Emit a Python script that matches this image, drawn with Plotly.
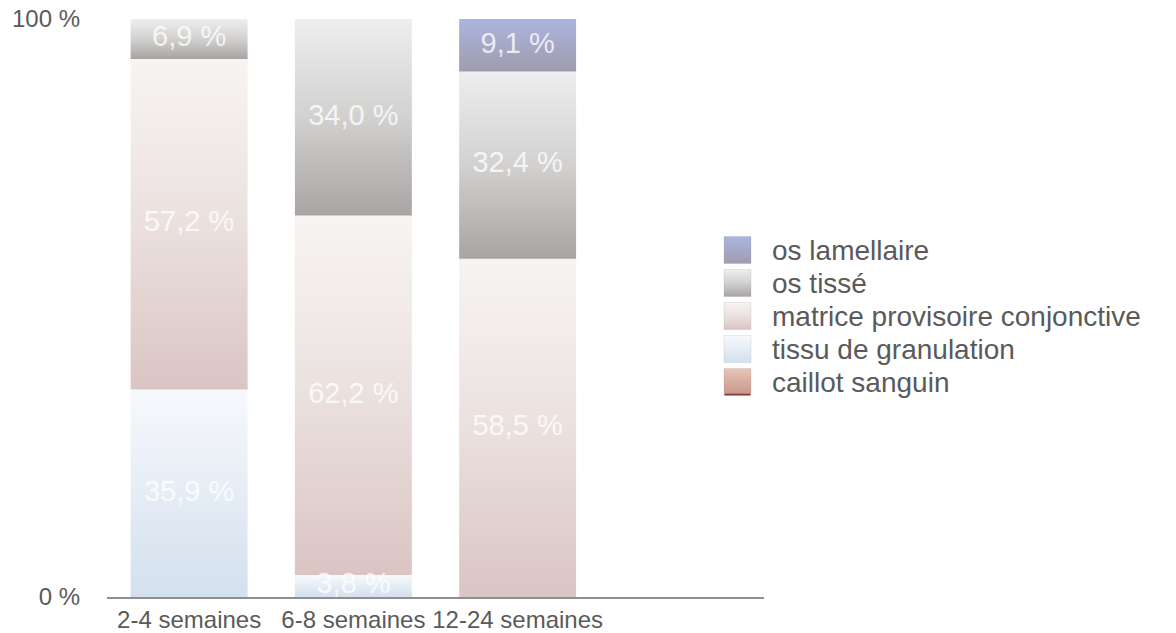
import plotly.graph_objects as go

# --- data -------------------------------------------------------------
categories = ["2-4 semaines", "6-8 semaines", "12-24 semaines"]

caillot_sanguin = [0.0, 0.0, 0.0]
tissu_de_granulation = [35.9, 3.8, 0.0]
matrice_provisoire_conjonctive = [57.2, 62.2, 58.5]
os_tisse = [6.9, 34.0, 32.4]
os_lamellaire = [0.0, 0.0, 9.1]

y_tick_values = [0, 100]
y_tick_labels = ["0 %", "100 %"]

# stacking order, bottom to top
series = [
    ("caillot sanguin", caillot_sanguin),
    ("tissu de granulation", tissu_de_granulation),
    ("matrice provisoire conjonctive", matrice_provisoire_conjonctive),
    ("os tissé", os_tisse),
    ("os lamellaire", os_lamellaire),
]

# vertical gradients per series (0 = bottom, 1 = top)
gradients = {
    "caillot sanguin": [[0, "#c6968a"], [1, "#e9c3b7"]],
    "tissu de granulation": [[0, "#d3e0ee"], [1, "#f7f9fc"]],
    "matrice provisoire conjonctive": [[0, "#dac5c3"], [0.55, "#ece3e1"], [1, "#f7f4f2"]],
    "os tissé": [[0, "#a8a4a3"], [0.5, "#d2d1d0"], [1, "#eeeeee"]],
    "os lamellaire": [[0, "#9f9cad"], [1, "#aab5df"]],
}

W, H = 1176, 633
FONT = "Liberation Sans, Helvetica Neue, Arial, sans-serif"
TEXT_GREY = "#5a5a5a"

bar_width = 0.712
fig = go.Figure()

# --- stacked 100 % columns, one gradient polygon per segment ----------
label_x, label_y, label_text = [], [], []
base = [0.0] * len(categories)
for name, values in series:
    for i, v in enumerate(values):
        if v <= 0:
            continue
        x0, x1 = i - bar_width / 2, i + bar_width / 2
        y0, y1 = base[i], base[i] + v
        fig.add_trace(go.Scatter(
            x=[x0, x1, x1, x0, x0],
            y=[y0, y0, y1, y1, y0],
            mode="lines",
            line=dict(width=0),
            fill="toself",
            fillgradient=dict(type="vertical", colorscale=gradients[name]),
            name=name,
            legendgroup=name,
            showlegend=False,
            hoverinfo="skip",
            xaxis="x", yaxis="y",
        ))
        label_x.append(i)
        label_y.append((y0 + y1) / 2)
        label_text.append(f"{v:.1f}".replace(".", ",") + " %")
        base[i] = y1

fig.add_trace(go.Scatter(
    x=label_x, y=label_y, text=label_text,
    mode="text",
    textposition="middle center",
    textfont=dict(family=FONT, size=29, color="rgba(255,255,255,0.78)"),
    showlegend=False, hoverinfo="skip",
    xaxis="x", yaxis="y",
))

# --- legend: gradient swatches on a pixel-space overlay ---------------
sw_left, sw_size = 724, 27
row_centers = [250, 283, 316, 349, 382]
for (name, _), cy in zip(reversed(series), row_centers):
    top, bottom = cy - sw_size / 2, cy + sw_size / 2
    fig.add_trace(go.Scatter(
        x=[sw_left, sw_left + sw_size, sw_left + sw_size, sw_left, sw_left],
        y=[H - bottom, H - bottom, H - top, H - top, H - bottom],
        mode="lines",
        line=dict(width=0.6, color="rgba(120,120,120,0.25)"),
        fill="toself",
        fillgradient=dict(type="vertical", colorscale=gradients[name]),
        showlegend=False, hoverinfo="skip",
        xaxis="x2", yaxis="y2",
    ))
    fig.add_annotation(
        x=770 / W, y=1 - cy / H, xref="paper", yref="paper",
        text=name, showarrow=False, xanchor="left", yanchor="middle",
        font=dict(family=FONT, size=28, color=TEXT_GREY),
    )
    if name == "caillot sanguin":
        fig.add_shape(
            type="line", xref="x2", yref="y2",
            x0=sw_left + 1, x1=sw_left + sw_size - 1,
            y0=H - bottom + 1, y1=H - bottom + 1,
            line=dict(color="#7d3b36", width=1.5),
        )

fig.update_layout(
    width=W, height=H,
    autosize=False,
    margin=dict(l=0, r=0, t=0, b=0),
    paper_bgcolor="white",
    plot_bgcolor="rgba(0,0,0,0)",
    showlegend=False,
    font=dict(family=FONT, color=TEXT_GREY),
    xaxis=dict(
        domain=[107 / W, 764 / W],
        range=[-0.5, 3.5],
        tickmode="array", tickvals=list(range(len(categories))), ticktext=categories,
        tickfont=dict(family=FONT, size=24, color=TEXT_GREY),
        showgrid=False, zeroline=False,
        showline=True, linecolor="#8f8f8f", linewidth=2,
        ticks="", automargin=False, fixedrange=True,
        anchor="y",
    ),
    yaxis=dict(
        domain=[(H - 597) / H, (H - 19) / H],
        range=[0, 100],
        tickmode="array", tickvals=y_tick_values, ticktext=y_tick_labels,
        tickfont=dict(family=FONT, size=24, color=TEXT_GREY),
        showgrid=True, gridcolor="#d4d4d4", gridwidth=2,
        zeroline=False, showline=False,
        ticks="", ticklabelstandoff=26,
        automargin=False, fixedrange=True,
        anchor="x",
    ),
    xaxis2=dict(domain=[0, 1], range=[0, W], visible=False, fixedrange=True, anchor="y2"),
    yaxis2=dict(domain=[0, 1], range=[0, H], visible=False, fixedrange=True, anchor="x2"),
)

fig.write_html("out.html")
